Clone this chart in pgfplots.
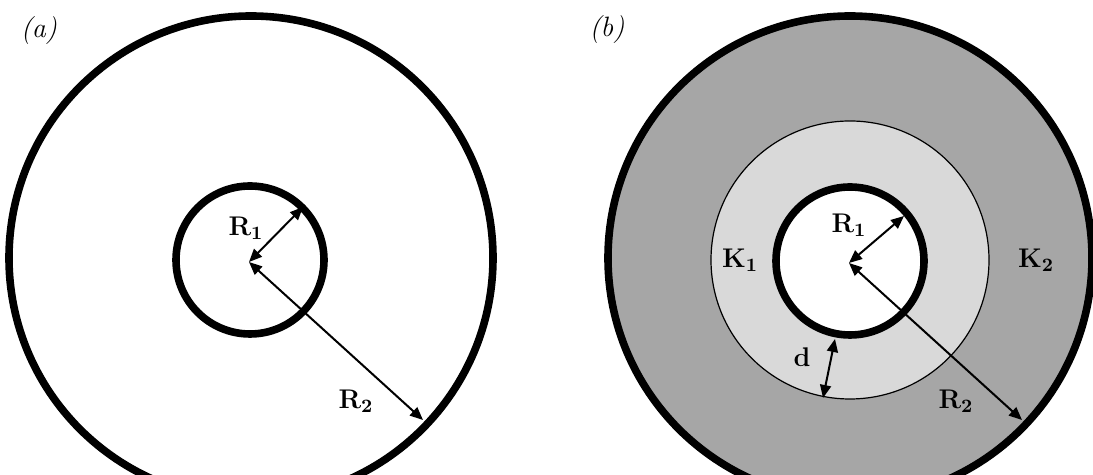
\documentclass[border=0pt]{standalone}
\usepackage{pgfplots}
\pgfplotsset{compat=1.18}
\usetikzlibrary{arrows.meta}
\definecolor{darkg}{HTML}{A6A6A6}
\definecolor{lightg}{HTML}{D9D9D9}
\tikzset{
  lbl/.style={font=\fontsize{13.5}{16}\selectfont\bfseries, inner sep=0pt},
  plbl/.style={font=\fontsize{14}{17}\selectfont\itshape, inner sep=0pt},
  arr/.style={line width=1pt, {Triangle[length=6.5pt,width=5.5pt]}-{Triangle[length=6.5pt,width=5.5pt]}},
}
\begin{document}
\begin{tikzpicture}
\begin{axis}[
  scale only axis, width=546.5pt, height=237.5pt,
  xmin=0, xmax=1093, ymin=0, ymax=475,
  hide axis, clip=true,
]
% ---------- panel (a) ----------
\draw[line width=3.8pt, black] (axis cs:251,217) circle [radius=242];
\draw[line width=3.8pt, black] (axis cs:250,215) circle [radius=74];
\addplot[arr, mark=none] coordinates {(249,213) (303,268)};
\addplot[arr, mark=none] coordinates {(249,213) (423,55)};
\node[lbl] at (axis cs:246,247) {R\textsubscript{1}};
\node[lbl] at (axis cs:356,74) {R\textsubscript{2}};
\node[plbl] at (axis cs:39,444) {(a)};
% ---------- panel (b) ----------
\draw[line width=3.8pt, black, fill=darkg] (axis cs:850,217) circle [radius=242];
\draw[line width=0.6pt, black, fill=lightg] (axis cs:850,215) circle [radius=139];
\draw[line width=3.8pt, black, fill=white] (axis cs:850,214) circle [radius=74];
\addplot[arr, mark=none] coordinates {(849,212) (904,259)};
\addplot[arr, mark=none] coordinates {(849,212) (1022,55)};
\addplot[arr, mark=none] coordinates {(835,136) (823,77)};
\node[lbl] at (axis cs:849,250) {R\textsubscript{1}};
\node[lbl] at (axis cs:956,74) {R\textsubscript{2}};
\node[lbl] at (axis cs:740,215) {K\textsubscript{1}};
\node[lbl] at (axis cs:1036,215) {K\textsubscript{2}};
\node[lbl] at (axis cs:802,118) {d};
\node[plbl] at (axis cs:607,445) {(b)};
\end{axis}
\pgfresetboundingbox
\useasboundingbox (current axis.south west) rectangle (current axis.north east);
\end{tikzpicture}
\end{document}
